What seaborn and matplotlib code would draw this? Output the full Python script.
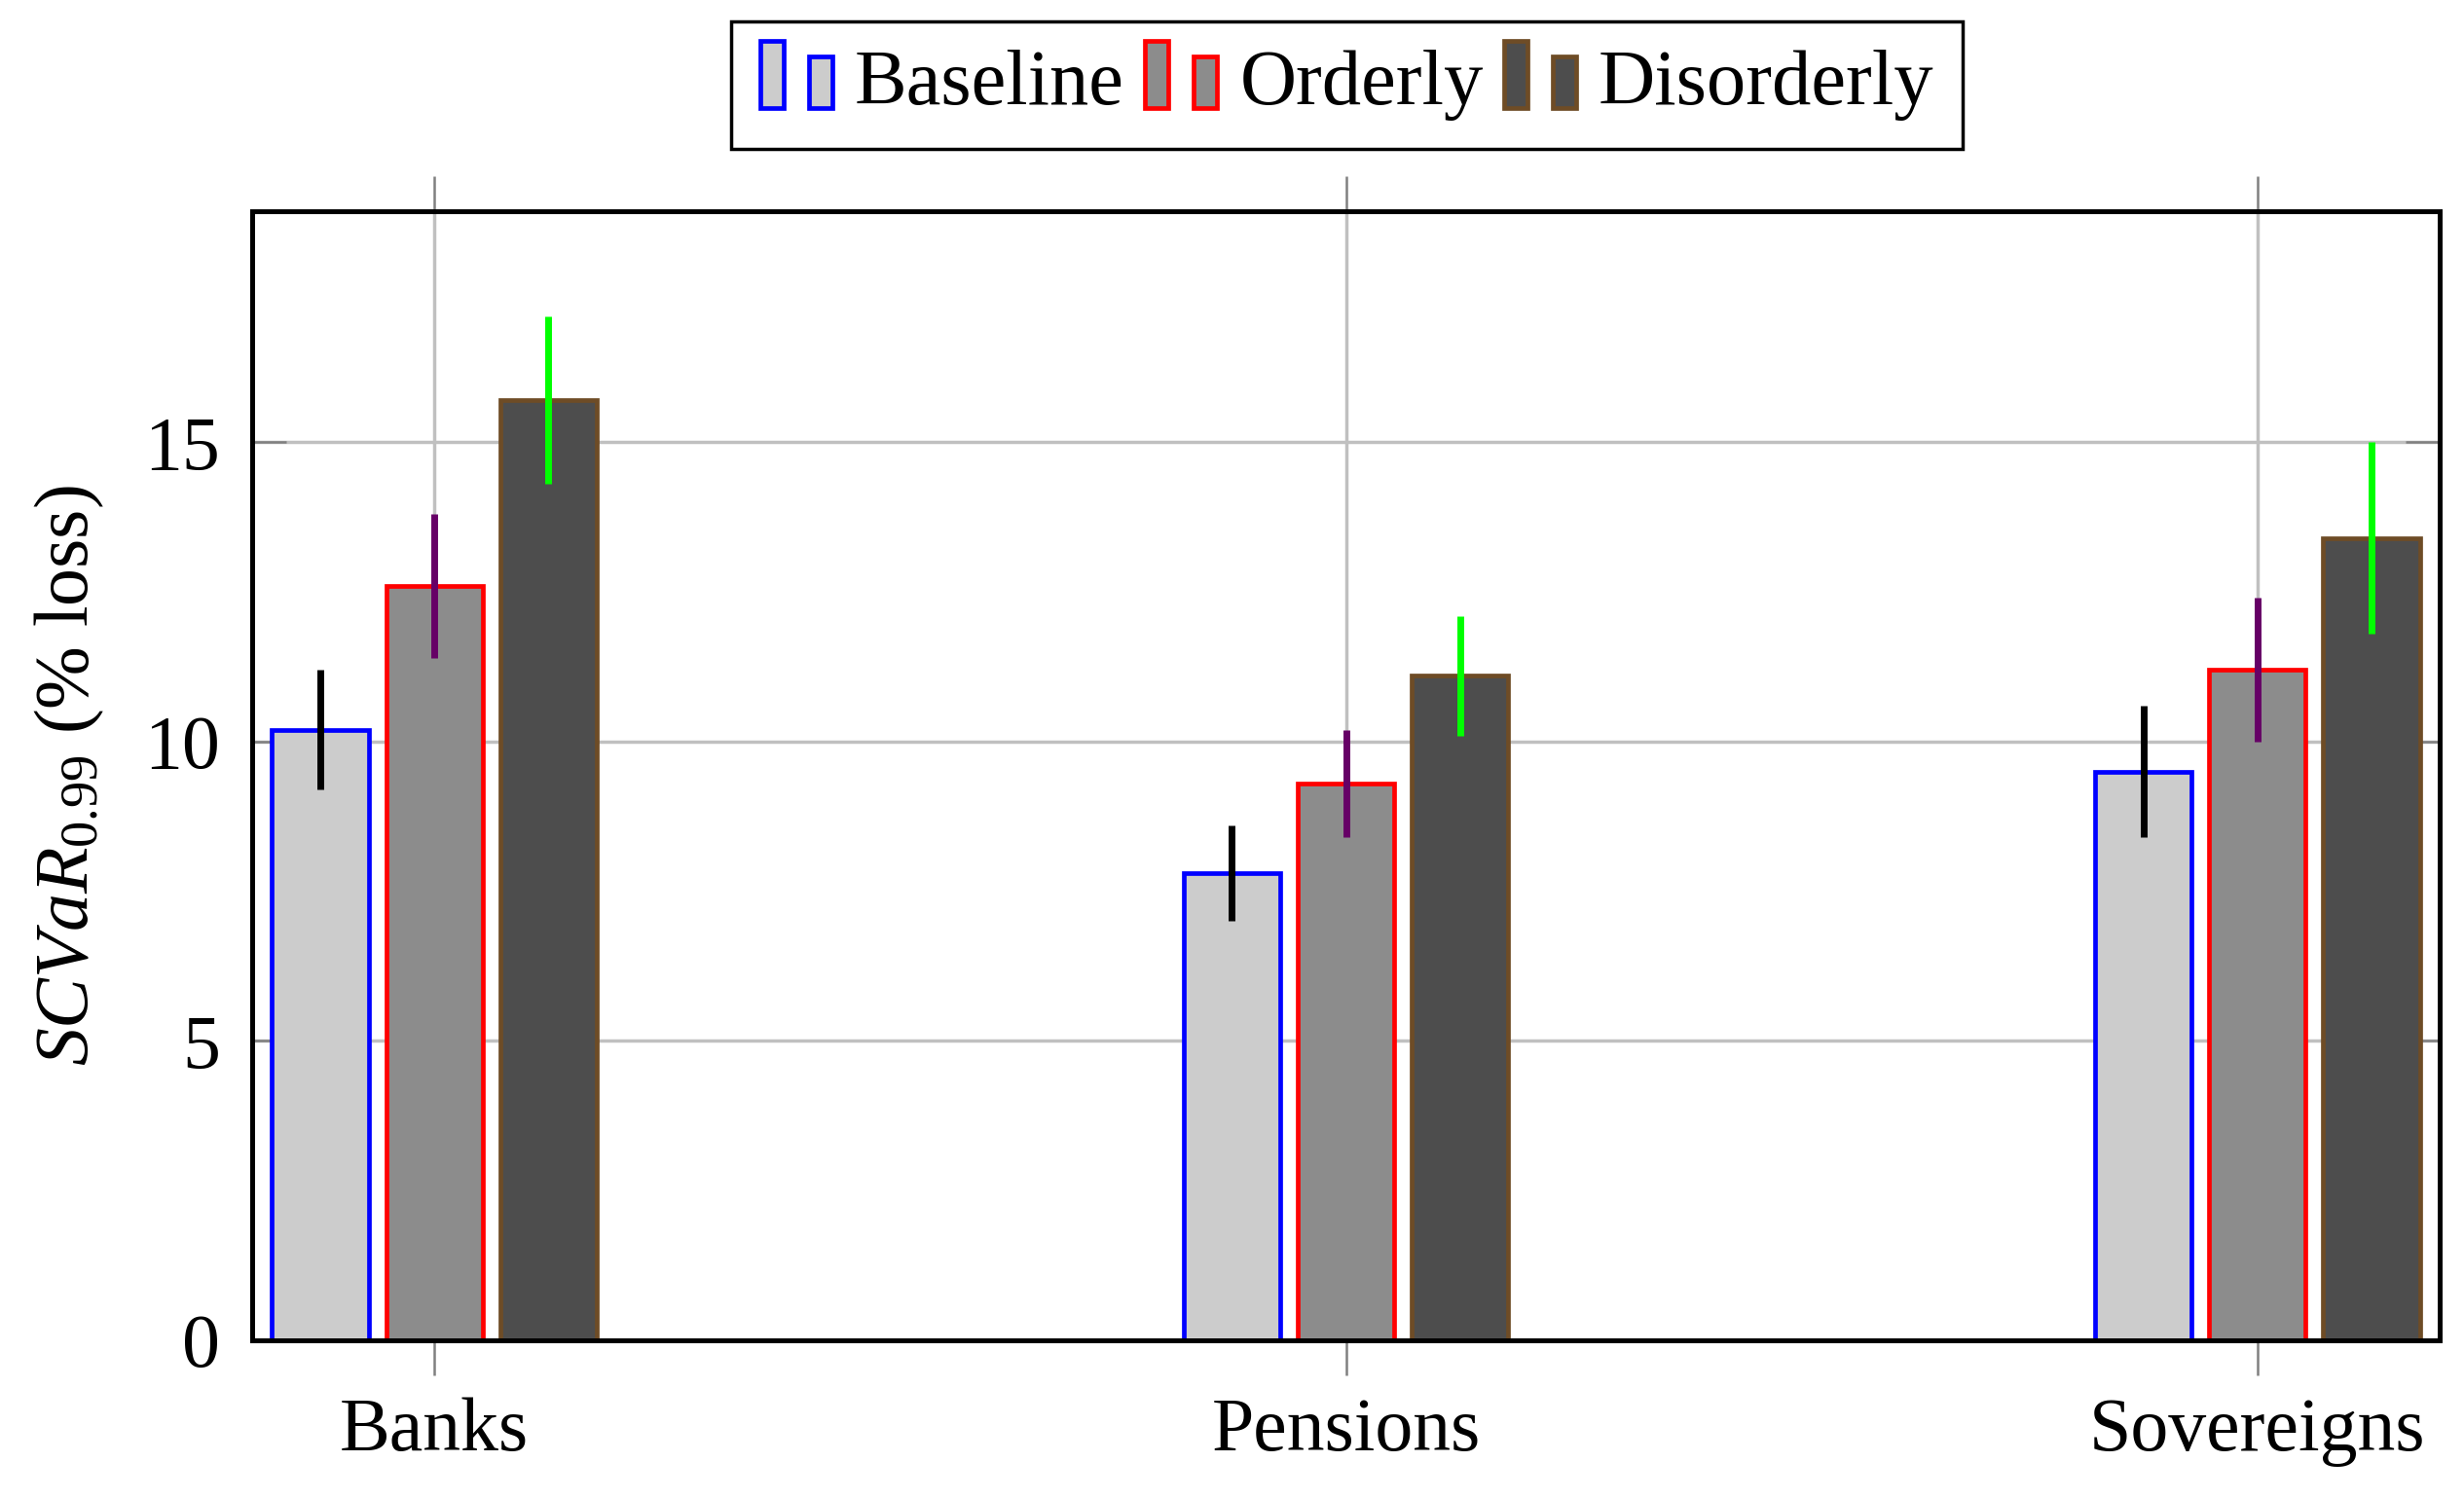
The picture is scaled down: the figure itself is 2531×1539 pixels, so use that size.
import matplotlib
matplotlib.use("Agg")
import matplotlib.pyplot as plt
import seaborn as sns
import pandas as pd
from matplotlib.patches import Rectangle
from matplotlib.legend_handler import HandlerBase

# ---- data ----
categories = ["Banks", "Pensions", "Sovereigns"]
scenarios = ["Baseline", "Orderly", "Disorderly"]
baseline = [10.2, 7.8, 9.5]
orderly = [12.6, 9.3, 11.2]
disorderly = [15.7, 11.1, 13.4]
baseline_err = [1.0, 0.8, 1.1]
orderly_err = [1.2, 0.9, 1.2]
disorderly_err = [1.4, 1.0, 1.6]
yticks = [0, 5, 10, 15]

fills = ["#cccccc", "#8c8c8c", "#4d4d4d"]
edges = ["#0000ff", "#ff0000", "#6e4c26"]
err_colors = ["#000000", "#660066", "#00ff00"]

values = [baseline, orderly, disorderly]
errors = [baseline_err, orderly_err, disorderly_err]

rows = []
for s, vals in zip(scenarios, values):
    for c, v in zip(categories, vals):
        rows.append({"category": c, "scenario": s, "value": v})
df = pd.DataFrame(rows)

sns.set_theme(style="white")
plt.rcParams["font.family"] = ["Liberation Serif", "DejaVu Serif"]
plt.rcParams["mathtext.fontset"] = "custom"
plt.rcParams["mathtext.rm"] = "Liberation Serif"
plt.rcParams["mathtext.it"] = "Liberation Serif:italic"
plt.rcParams["text.color"] = "black"
plt.rcParams["axes.labelcolor"] = "black"
plt.rcParams["xtick.labelcolor"] = "black"
plt.rcParams["ytick.labelcolor"] = "black"

FS = 56
LFS = 58
fig = plt.figure(figsize=(25.31, 15.39), dpi=100)
ax = fig.add_axes([259 / 2531, 1 - 1377 / 1539, (2506 - 259) / 2531, (1377 - 217) / 1539])

sns.barplot(data=df, x="category", y="value", hue="scenario", order=categories,
            hue_order=scenarios, palette=fills, width=0.375, gap=0.15,
            errorbar=None, ax=ax, zorder=2)

bar_containers = list(ax.containers)
for i, cont in enumerate(bar_containers):
    for bar, e in zip(cont, errors[i]):
        bar.set_edgecolor(edges[i])
        bar.set_linewidth(3.4)
        bar.set_facecolor(fills[i])
        xc = bar.get_x() + bar.get_width() / 2
        ax.errorbar([xc], [bar.get_height()], yerr=[e], fmt="none",
                    ecolor=err_colors[i], elinewidth=5, capsize=0, zorder=4)

if ax.get_legend() is not None:
    ax.get_legend().remove()

ax.set_xlim(-0.2, 2.2)
ax.set_ylim(0, 18.86)
ax.set_yticks(yticks)
ax.set_yticklabels([str(t) for t in yticks])
ax.set_xlabel("")
ax.set_ylabel(r"$\mathit{SCVaR}_{0.99}$ (% loss)", fontsize=FS, labelpad=28, color="black")

ax.set_axisbelow(True)
ax.grid(True, color="#c0c0c0", linewidth=2.5)
for sp in ax.spines.values():
    sp.set_visible(True)
    sp.set_color("black")
    sp.set_linewidth(3.6)
    sp.set_zorder(5)

ax.tick_params(axis="x", direction="out", length=26, width=1.8, color="#808080",
               top=True, bottom=True, labelsize=FS, pad=16, labelcolor="black")
ax.tick_params(axis="y", direction="in", length=25, width=1.8, color="#808080",
               left=True, right=True, labelsize=FS, pad=24, labelcolor="black")


class TwoBarHandler(HandlerBase):
    def __init__(self, face, edge):
        super().__init__()
        self.face = face
        self.edge = edge

    def create_artists(self, legend, orig_handle, xdescent, ydescent, width, height, fontsize, trans):
        bw = 17.0
        y0 = -ydescent - 3.0
        r1 = Rectangle((-xdescent + 1.0, y0), bw, 50.0,
                       facecolor=self.face, edgecolor=self.edge, linewidth=3.4, transform=trans)
        r2 = Rectangle((-xdescent + 37.0, y0), bw, 38.0,
                       facecolor=self.face, edgecolor=self.edge, linewidth=3.4, transform=trans)
        return [r1, r2]


handles = [Rectangle((0, 0), 1, 1) for _ in scenarios]
handler_map = {h: TwoBarHandler(f, e) for h, f, e in zip(handles, fills, edges)}
leg = fig.legend(handles, scenarios, handler_map=handler_map, loc="upper center",
                 bbox_to_anchor=(0.5465, 0.986), ncol=3, fontsize=LFS, frameon=True,
                 fancybox=False, edgecolor="black", framealpha=1,
                 handlelength=0.97, handletextpad=0.25, columnspacing=0.25,
                 borderpad=0.36, handleheight=0.7, borderaxespad=0)
leg.get_frame().set_linewidth(2.5)

fig.savefig("out.png", dpi=100, facecolor="white")
